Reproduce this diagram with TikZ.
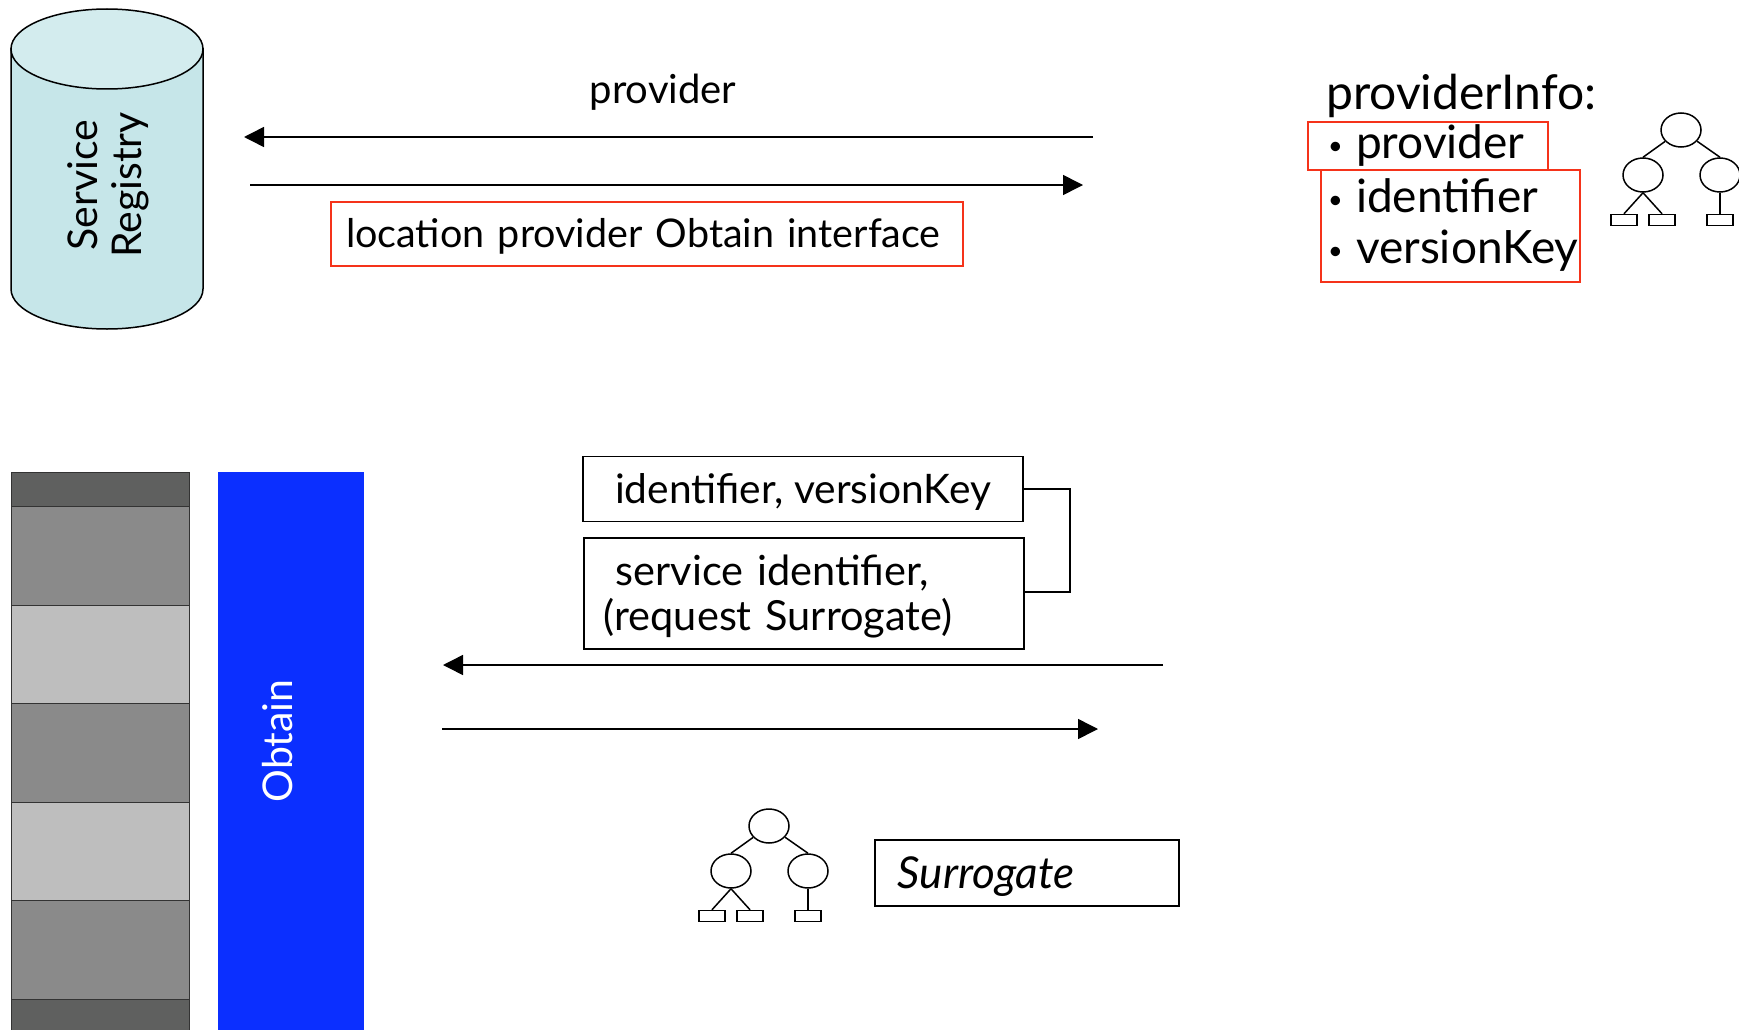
\documentclass[tikz,border=0pt]{standalone}
\usepackage{fontspec}
\setmainfont{Lato}
\usetikzlibrary{arrows.meta,shapes.geometric,positioning}
\definecolor{redbox}{HTML}{F5331A}
\definecolor{cylbody}{HTML}{C6E6E9}
\definecolor{cyltop}{HTML}{D3ECEE}
\definecolor{banddark}{HTML}{5F605F}
\definecolor{bandmid}{HTML}{8A8A8A}
\definecolor{bandlight}{HTML}{BEBEBE}
\definecolor{obtainblue}{HTML}{0B2FFF}
\newcommand{\bul}{\makebox[28pt][l]{\raisebox{4pt}{\scalebox{0.55}{\textbullet}}}}
\newcommand{\dn}[2]{\raisebox{-#1pt}[0pt][0pt]{#2}}
\tikzset{
  x=1pt,y=-1pt,
  ln/.style={line width=1.5pt,black},
  conn/.style={ln,-{Triangle[length=20pt,width=20pt]}},
  lbl/.style={inner sep=0pt,font=\fontsize{40}{46}\selectfont},
  boxk/.style={draw=black,line width=1.5pt,inner sep=0pt,font=\fontsize{41.5}{45.5}\selectfont},
  boxr/.style={draw=redbox,line width=2pt,inner sep=0pt,font=\fontsize{46}{51.5}\selectfont},
  band/.style={draw=black!80,line width=1pt,inner sep=0pt,minimum width=178pt,anchor=north west},
  nodeball/.style={draw=black,ellipse,line width=1.5pt,inner sep=0pt,minimum width=40pt,minimum height=34pt},
  leaf/.style={draw=black,line width=1.5pt,inner sep=0pt,minimum width=26pt,minimum height=11pt},
  treeicon/.pic={
    \node[nodeball] (root) at (0,0) {};
    \node[nodeball] (l) at (-38,45) {};
    \node[nodeball] (r) at (39,45) {};
    \node[leaf] (a) at (-57,90) {};
    \node[leaf] (b) at (-19,90) {};
    \node[leaf] (c) at (39,90) {};
    \draw[ln] (root) -- (l.north);
    \draw[ln] (root) -- (r.north);
    \draw[ln] (l.south) -- (a.north);
    \draw[ln] (l.south) -- (b.north);
    \draw[ln] (r.south) -- (c.north);
  }
}
\begin{document}
\begin{tikzpicture}
\useasboundingbox (0,0) rectangle (1739,1030);
% cylinder
\path[fill=cylbody,draw=black,line width=1.5pt]
  (11,49) -- (11,289) arc[start angle=180,end angle=360,x radius=96,y radius=-40] -- (203,49) -- cycle;
\path[fill=cyltop,draw=black,line width=1.5pt] (107,49) ellipse[x radius=96,y radius=40];
\node[lbl,rotate=90,align=center,font=\fontsize{41}{44}\selectfont] (reg) at (108,185) {Service\\Registry};
% top arrows
\coordinate (a1s) at (1093,137); \coordinate (a1e) at (244,137);
\coordinate (a2s) at (250,185); \coordinate (a2e) at (1083,185);
\draw[conn] (a1s) -- (a1e);
\draw[conn] (a2s) -- (a2e);
\node[lbl] (prov) at (663,92) {provider};
\node[boxr,anchor=north west,align=left,font=\fontsize{39.5}{46}\selectfont,minimum width=632pt,minimum height=64pt,text width=602pt,inner xsep=15pt] (loc) at (330,201) {\dn{13.5}{location provider Obtain interface}};
% provider info
\node[lbl,anchor=base west,font=\fontsize{48}{52}\selectfont] (pinfo) at (1326,110) {providerInfo:};
\node[boxr,anchor=north west,align=left,minimum width=240pt,minimum height=48pt,text width=200pt,inner xsep=20pt] (pb1) at (1307,121) {\bul provider};
\node[boxr,anchor=north west,align=left,minimum width=259pt,minimum height=112pt,text width=245pt,inner xsep=7pt] (pb2) at (1320,169) {\bul identifier\\\bul versionKey\vspace{2pt}};
\pic (ta) at (1681,130) {treeicon};
% stack
\node[band,fill=banddark,minimum height=34pt] (s1) at (11,472) {};
\node[band,fill=bandmid,minimum height=99pt] (s2) at (11,506) {};
\node[band,fill=bandlight,minimum height=98pt] (s3) at (11,605) {};
\node[band,fill=bandmid,minimum height=99pt] (s4) at (11,703) {};
\node[band,fill=bandlight,minimum height=98pt] (s5) at (11,802) {};
\node[band,fill=bandmid,minimum height=99pt] (s6) at (11,900) {};
\node[band,fill=banddark,minimum height=36pt] (s7) at (11,999) {};
\node[fill=obtainblue,inner sep=0pt,minimum width=146pt,minimum height=558pt,anchor=north west] (ob) at (218,472) {};
\node[lbl,rotate=90,text=white,font=\fontsize{41}{46}\selectfont] (obt) at (278,741) {Obtain};
% lower boxes
\node[boxk,font=\fontsize{40.7}{46}\selectfont,minimum width=440pt,minimum height=65pt] (idb) at (803,489) {\dn{14}{identifier, versionKey}};
\node[boxk,anchor=north west,align=left,minimum width=440pt,minimum height=111pt,text width=400pt,inner xsep=20pt] (svc) at (583,537) {\rule{0pt}{37pt}\hspace*{12pt}service identifier,\\(request Surrogate)};
\coordinate (bk1) at (1070,489); \coordinate (bk2) at (1070,592);
\draw[ln] (idb.east) -- (bk1) -- (bk2) -- (bk2 -| svc.east);
\coordinate (a3s) at (1163,665); \coordinate (a3e) at (443,665);
\coordinate (a4s) at (442,729); \coordinate (a4e) at (1098,729);
\draw[conn] (a3s) -- (a3e);
\draw[conn] (a4s) -- (a4e);
\pic (tb) at (769,826) {treeicon};
\node[boxk,anchor=north west,align=left,minimum width=304pt,minimum height=66pt,text width=258pt,inner xsep=23pt,font=\fontsize{44}{46}\selectfont\itshape] (sur) at (874,839) {\dn{16}{Surrogate}};
\end{tikzpicture}
\end{document}
